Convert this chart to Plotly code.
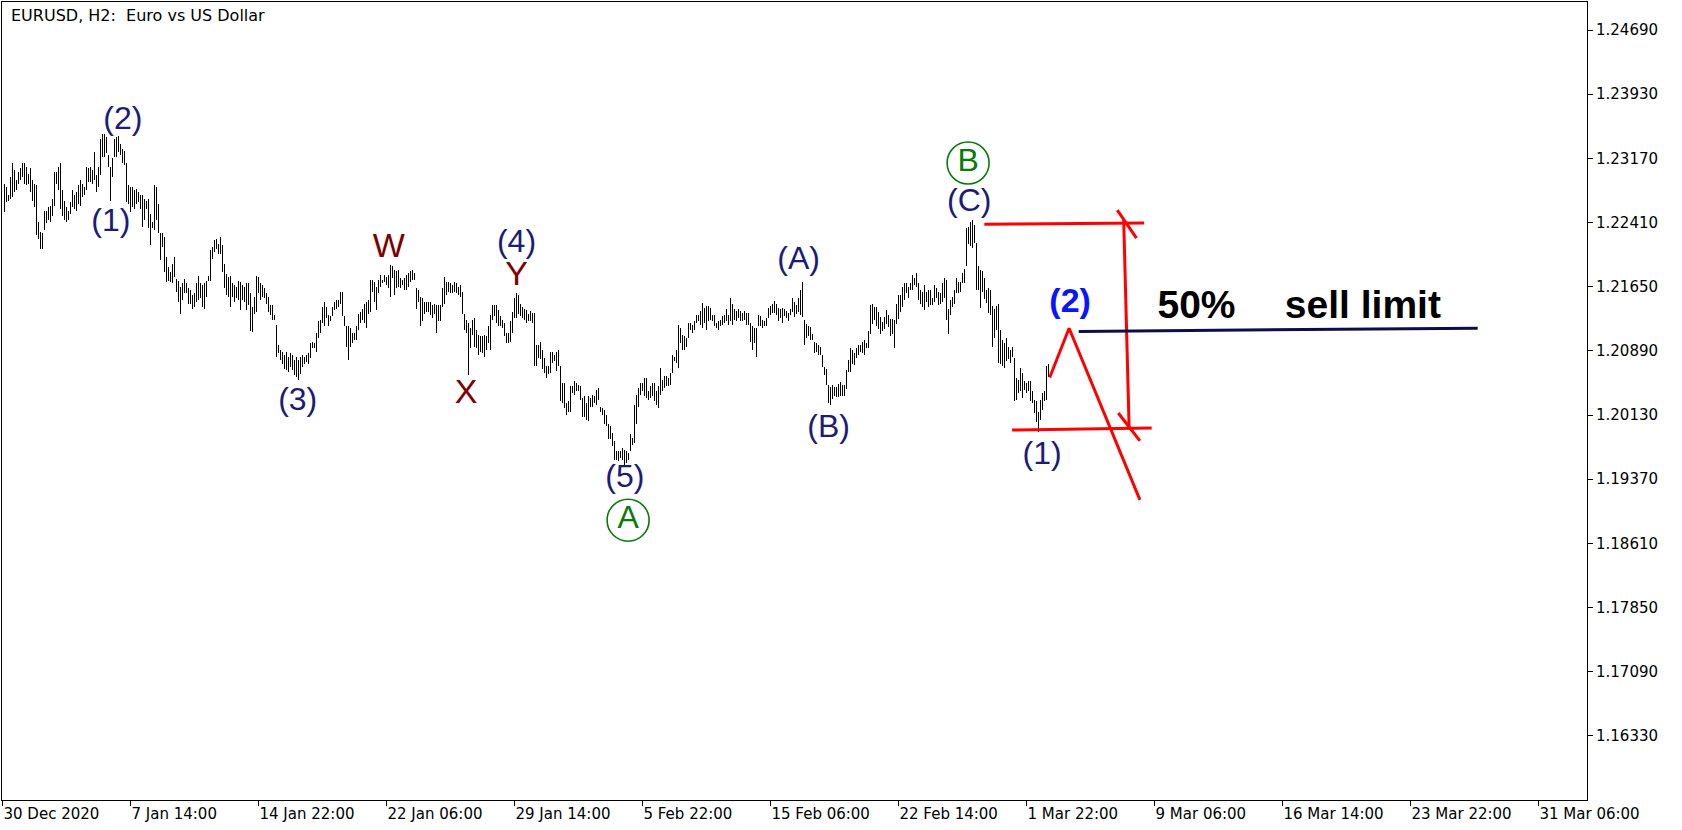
import plotly.graph_objects as go

# ---------------- data (EURUSD H2 bars) ----------------
bar_high = [
    1.2287, 1.2283, 1.2273, 1.2295, 1.2311, 1.2303, 1.2291, 1.2301, 1.2305, 1.2311,
    1.2311, 1.2307, 1.2299, 1.2305, 1.2291, 1.2287, 1.2285, 1.2242, 1.2230, 1.2228,
    1.2255, 1.2255, 1.2259, 1.2261, 1.2269, 1.2301, 1.2301, 1.2307, 1.2311, 1.2279,
    1.2267, 1.2259, 1.2255, 1.2265, 1.2279, 1.2273, 1.2277, 1.2285, 1.2291, 1.2287,
    1.2283, 1.2307, 1.2305, 1.2307, 1.2303, 1.2324, 1.2297, 1.2307, 1.2340, 1.2346,
    1.2346, 1.2342, 1.2321, 1.2307, 1.2317, 1.2340, 1.2342, 1.2344, 1.2334, 1.2328,
    1.2326, 1.2311, 1.2285, 1.2283, 1.2283, 1.2279, 1.2281, 1.2277, 1.2273, 1.2273,
    1.2269, 1.2267, 1.2269, 1.2251, 1.2242, 1.2285, 1.2283, 1.2263, 1.2228, 1.2228,
    1.2224, 1.2200, 1.2188, 1.2182, 1.2192, 1.2200, 1.2174, 1.2172, 1.2165, 1.2169,
    1.2174, 1.2169, 1.2163, 1.2161, 1.2155, 1.2157, 1.2169, 1.2178, 1.2169, 1.2167,
    1.2169, 1.2172, 1.2178, 1.2208, 1.2212, 1.2220, 1.2222, 1.2216, 1.2224, 1.2214,
    1.2192, 1.2180, 1.2176, 1.2178, 1.2169, 1.2167, 1.2165, 1.2172, 1.2171, 1.2167,
    1.2165, 1.2169, 1.2169, 1.2157, 1.2141, 1.2153, 1.2178, 1.2176, 1.2169, 1.2167,
    1.2163, 1.2157, 1.2153, 1.2143, 1.2143, 1.2131, 1.2120, 1.2096, 1.2090, 1.2088,
    1.2084, 1.2088, 1.2082, 1.2086, 1.2084, 1.2078, 1.2082, 1.2078, 1.2082, 1.2084,
    1.2082, 1.2084, 1.2086, 1.2098, 1.2100, 1.2098, 1.2110, 1.2124, 1.2126, 1.2141,
    1.2147, 1.2141, 1.2131, 1.2130, 1.2141, 1.2147, 1.2149, 1.2149, 1.2159, 1.2159,
    1.2130, 1.2118, 1.2118, 1.2116, 1.2110, 1.2110, 1.2118, 1.2133, 1.2135, 1.2139,
    1.2145, 1.2147, 1.2149, 1.2173, 1.2173, 1.2171, 1.2165, 1.2173, 1.2179, 1.2173,
    1.2179, 1.2177, 1.2179, 1.2191, 1.2189, 1.2185, 1.2183, 1.2185, 1.2175, 1.2173,
    1.2175, 1.2179, 1.2181, 1.2183, 1.2185, 1.2181, 1.2163, 1.2161, 1.2153, 1.2151,
    1.2147, 1.2147, 1.2147, 1.2147, 1.2143, 1.2145, 1.2143, 1.2143, 1.2143, 1.2163,
    1.2177, 1.2171, 1.2171, 1.2169, 1.2167, 1.2171, 1.2169, 1.2165, 1.2167, 1.2159,
    1.2133, 1.2126, 1.2122, 1.2116, 1.2126, 1.2128, 1.2114, 1.2108, 1.2106, 1.2106,
    1.2108, 1.2106, 1.2118, 1.2131, 1.2143, 1.2143, 1.2143, 1.2137, 1.2130, 1.2126,
    1.2122, 1.2110, 1.2110, 1.2124, 1.2135, 1.2151, 1.2157, 1.2155, 1.2145, 1.2141,
    1.2139, 1.2137, 1.2133, 1.2136, 1.2134, 1.2134, 1.2096, 1.2096, 1.2100, 1.2090,
    1.2081, 1.2071, 1.2071, 1.2088, 1.2088, 1.2084, 1.2088, 1.2090, 1.2071, 1.2051,
    1.2051, 1.2027, 1.2029, 1.2047, 1.2047, 1.2053, 1.2051, 1.2049, 1.2047, 1.2033,
    1.2035, 1.2027, 1.2035, 1.2033, 1.2037, 1.2035, 1.2043, 1.2045, 1.2023, 1.2021,
    1.2019, 1.2013, 1.2002, 1.2000, 1.1992, 1.1982, 1.1970, 1.1970, 1.1970, 1.1974,
    1.1972, 1.1970, 1.1968, 1.1990, 1.1986, 1.2025, 1.2037, 1.2045, 1.2051, 1.2051,
    1.2057, 1.2057, 1.2041, 1.2047, 1.2051, 1.2051, 1.2041, 1.2047, 1.2069, 1.2055,
    1.2059, 1.2059, 1.2057, 1.2063, 1.2084, 1.2082, 1.2090, 1.2120, 1.2116, 1.2108,
    1.2106, 1.2104, 1.2122, 1.2122, 1.2120, 1.2124, 1.2132, 1.2132, 1.2136, 1.2146,
    1.2140, 1.2142, 1.2142, 1.2140, 1.2132, 1.2132, 1.2122, 1.2124, 1.2126, 1.2130,
    1.2132, 1.2138, 1.2132, 1.2152, 1.2144, 1.2138, 1.2136, 1.2138, 1.2136, 1.2134,
    1.2136, 1.2134, 1.2134, 1.2122, 1.2118, 1.2116, 1.2116, 1.2132, 1.2130, 1.2126,
    1.2124, 1.2128, 1.2140, 1.2142, 1.2144, 1.2148, 1.2144, 1.2140, 1.2138, 1.2140,
    1.2138, 1.2136, 1.2134, 1.2139, 1.2151, 1.2147, 1.2143, 1.2151, 1.2161, 1.2171,
    1.2125, 1.2121, 1.2119, 1.2117, 1.2109, 1.2100, 1.2098, 1.2096, 1.2094, 1.2084,
    1.2070, 1.2068, 1.2048, 1.2046, 1.2048, 1.2046, 1.2046, 1.2050, 1.2052, 1.2048,
    1.2048, 1.2066, 1.2078, 1.2092, 1.2090, 1.2086, 1.2092, 1.2096, 1.2096, 1.2100,
    1.2102, 1.2098, 1.2113, 1.2143, 1.2145, 1.2141, 1.2141, 1.2135, 1.2129, 1.2123,
    1.2129, 1.2137, 1.2131, 1.2127, 1.2127, 1.2125, 1.2145, 1.2155, 1.2155, 1.2165,
    1.2169, 1.2169, 1.2165, 1.2169, 1.2179, 1.2175, 1.2181, 1.2169, 1.2161, 1.2159,
    1.2167, 1.2159, 1.2161, 1.2161, 1.2151, 1.2167, 1.2163, 1.2159, 1.2157, 1.2169,
    1.2175, 1.2173, 1.2139, 1.2149, 1.2153, 1.2161, 1.2175, 1.2171, 1.2171, 1.2181,
    1.2186, 1.2234, 1.2236, 1.2242, 1.2244, 1.2238, 1.2217, 1.2189, 1.2185, 1.2183,
    1.2175, 1.2161, 1.2163, 1.2161, 1.2142, 1.2138, 1.2142, 1.2144, 1.2114, 1.2102,
    1.2098, 1.2104, 1.2094, 1.2090, 1.2094, 1.2080, 1.2057, 1.2055, 1.2069, 1.2063,
    1.2053, 1.2051, 1.2053, 1.2053, 1.2041, 1.2031, 1.2029, 1.2017, 1.2031, 1.2039,
    1.2041, 1.2071, 1.2073,
]
bar_low = [
    1.2253, 1.2265, 1.2267, 1.2269, 1.2271, 1.2277, 1.2279, 1.2287, 1.2291, 1.2295,
    1.2287, 1.2285, 1.2287, 1.2277, 1.2267, 1.2259, 1.2226, 1.2222, 1.2210, 1.2210,
    1.2232, 1.2240, 1.2244, 1.2242, 1.2249, 1.2261, 1.2287, 1.2279, 1.2257, 1.2249,
    1.2244, 1.2242, 1.2244, 1.2251, 1.2259, 1.2257, 1.2255, 1.2263, 1.2261, 1.2271,
    1.2273, 1.2279, 1.2289, 1.2289, 1.2287, 1.2291, 1.2277, 1.2283, 1.2297, 1.2319,
    1.2319, 1.2323, 1.2307, 1.2267, 1.2295, 1.2319, 1.2319, 1.2324, 1.2321, 1.2311,
    1.2309, 1.2265, 1.2263, 1.2253, 1.2259, 1.2257, 1.2263, 1.2265, 1.2257, 1.2236,
    1.2244, 1.2257, 1.2234, 1.2214, 1.2234, 1.2232, 1.2244, 1.2228, 1.2196, 1.2212,
    1.2182, 1.2171, 1.2172, 1.2171, 1.2169, 1.2176, 1.2159, 1.2147, 1.2133, 1.2149,
    1.2157, 1.2157, 1.2145, 1.2145, 1.2139, 1.2141, 1.2147, 1.2149, 1.2151, 1.2141,
    1.2139, 1.2153, 1.2172, 1.2172, 1.2198, 1.2206, 1.2210, 1.2204, 1.2204, 1.2182,
    1.2163, 1.2155, 1.2153, 1.2141, 1.2153, 1.2147, 1.2151, 1.2149, 1.2137, 1.2149,
    1.2147, 1.2137, 1.2143, 1.2113, 1.2111, 1.2133, 1.2135, 1.2157, 1.2149, 1.2153,
    1.2151, 1.2145, 1.2135, 1.2131, 1.2126, 1.2126, 1.2082, 1.2086, 1.2078, 1.2074,
    1.2068, 1.2066, 1.2064, 1.2070, 1.2066, 1.2060, 1.2058, 1.2054, 1.2062, 1.2070,
    1.2074, 1.2076, 1.2074, 1.2080, 1.2092, 1.2092, 1.2088, 1.2104, 1.2110, 1.2122,
    1.2118, 1.2128, 1.2118, 1.2124, 1.2130, 1.2137, 1.2139, 1.2141, 1.2145, 1.2130,
    1.2118, 1.2094, 1.2078, 1.2094, 1.2098, 1.2102, 1.2102, 1.2114, 1.2122, 1.2126,
    1.2122, 1.2116, 1.2133, 1.2135, 1.2159, 1.2147, 1.2137, 1.2157, 1.2165, 1.2169,
    1.2171, 1.2167, 1.2163, 1.2153, 1.2175, 1.2155, 1.2163, 1.2165, 1.2163, 1.2167,
    1.2161, 1.2161, 1.2165, 1.2171, 1.2173, 1.2173, 1.2139, 1.2147, 1.2118, 1.2124,
    1.2133, 1.2135, 1.2135, 1.2131, 1.2128, 1.2133, 1.2110, 1.2124, 1.2124, 1.2141,
    1.2145, 1.2155, 1.2159, 1.2157, 1.2157, 1.2159, 1.2157, 1.2155, 1.2153, 1.2133,
    1.2114, 1.2110, 1.2060, 1.2092, 1.2108, 1.2094, 1.2092, 1.2084, 1.2088, 1.2086,
    1.2082, 1.2090, 1.2098, 1.2090, 1.2126, 1.2130, 1.2122, 1.2118, 1.2118, 1.2116,
    1.2106, 1.2098, 1.2098, 1.2100, 1.2110, 1.2128, 1.2128, 1.2133, 1.2130, 1.2128,
    1.2126, 1.2122, 1.2124, 1.2124, 1.2122, 1.2071, 1.2071, 1.2081, 1.2079, 1.2067,
    1.2063, 1.2057, 1.2061, 1.2063, 1.2075, 1.2077, 1.2065, 1.2071, 1.2029, 1.2027,
    1.2021, 1.2013, 1.2017, 1.2017, 1.2039, 1.2037, 1.2041, 1.2041, 1.2031, 1.2011,
    1.2011, 1.2007, 1.2006, 1.2023, 1.2023, 1.2027, 1.2025, 1.2031, 1.2017, 1.2013,
    1.2002, 1.2000, 1.1984, 1.1984, 1.1976, 1.1960, 1.1960, 1.1958, 1.1962, 1.1960,
    1.1954, 1.1956, 1.1960, 1.1970, 1.1978, 1.1980, 1.2002, 1.2023, 1.2037, 1.2041,
    1.2035, 1.2033, 1.2031, 1.2033, 1.2035, 1.2029, 1.2025, 1.2021, 1.2037, 1.2041,
    1.2045, 1.2047, 1.2047, 1.2049, 1.2063, 1.2077, 1.2075, 1.2069, 1.2098, 1.2090,
    1.2090, 1.2094, 1.2104, 1.2114, 1.2110, 1.2114, 1.2122, 1.2124, 1.2120, 1.2116,
    1.2122, 1.2114, 1.2124, 1.2126, 1.2124, 1.2118, 1.2116, 1.2114, 1.2118, 1.2120,
    1.2122, 1.2124, 1.2120, 1.2124, 1.2120, 1.2126, 1.2124, 1.2128, 1.2124, 1.2124,
    1.2126, 1.2120, 1.2120, 1.2100, 1.2090, 1.2098, 1.2082, 1.2118, 1.2118, 1.2116,
    1.2118, 1.2118, 1.2128, 1.2132, 1.2134, 1.2134, 1.2132, 1.2124, 1.2128, 1.2122,
    1.2130, 1.2128, 1.2124, 1.2131, 1.2135, 1.2129, 1.2133, 1.2135, 1.2131, 1.2129,
    1.2096, 1.2104, 1.2107, 1.2102, 1.2102, 1.2086, 1.2088, 1.2084, 1.2084, 1.2070,
    1.2060, 1.2048, 1.2027, 1.2025, 1.2032, 1.2036, 1.2034, 1.2034, 1.2036, 1.2036,
    1.2036, 1.2044, 1.2064, 1.2064, 1.2074, 1.2072, 1.2080, 1.2084, 1.2088, 1.2086,
    1.2084, 1.2092, 1.2092, 1.2109, 1.2121, 1.2125, 1.2119, 1.2115, 1.2109, 1.2113,
    1.2115, 1.2121, 1.2117, 1.2107, 1.2109, 1.2092, 1.2121, 1.2127, 1.2135, 1.2141,
    1.2149, 1.2157, 1.2151, 1.2161, 1.2161, 1.2167, 1.2165, 1.2149, 1.2145, 1.2141,
    1.2137, 1.2147, 1.2141, 1.2143, 1.2143, 1.2147, 1.2151, 1.2143, 1.2145, 1.2147,
    1.2151, 1.2125, 1.2109, 1.2131, 1.2141, 1.2145, 1.2157, 1.2157, 1.2159, 1.2169,
    1.2169, 1.2189, 1.2215, 1.2213, 1.2211, 1.2217, 1.2161, 1.2161, 1.2140, 1.2159,
    1.2150, 1.2146, 1.2134, 1.2132, 1.2094, 1.2104, 1.2114, 1.2075, 1.2073, 1.2071,
    1.2069, 1.2077, 1.2079, 1.2075, 1.2082, 1.2029, 1.2031, 1.2039, 1.2041, 1.2033,
    1.2043, 1.2039, 1.2041, 1.2029, 1.2027, 1.2015, 1.2005, 1.1993, 1.2007, 1.2019,
    1.2029, 1.2031, 1.2058,
]

# time scale (bar index of each label) and price scale
x_tick_idx = [-1, 63, 127, 191, 255, 319, 383, 447, 511, 575, 639, 703, 767]
x_tick_text = ["30 Dec 2020", "7 Jan 14:00", "14 Jan 22:00", "22 Jan 06:00",
               "29 Jan 14:00", "5 Feb 22:00", "15 Feb 06:00", "22 Feb 14:00",
               "1 Mar 22:00", "9 Mar 06:00", "16 Mar 14:00", "23 Mar 22:00",
               "31 Mar 06:00"]
y_tick_vals = [1.16330, 1.17090, 1.17850, 1.18610, 1.19370, 1.20130,
               1.20890, 1.21650, 1.22410, 1.23170, 1.23930, 1.24690]

# wave labels (bar index, price)
navy_text = ["(2)", "(1)", "(3)", "(4)", "(5)", "(A)", "(B)", "(C)", "(1)"]
navy_x = [59.2, 53.2, 146.6, 256.0, 310.2, 397.1, 412.1, 482.4, 518.8]
navy_y = [1.23610, 1.22403, 1.20281, 1.22150, 1.19367, 1.21958, 1.19964, 1.22644, 1.19646]
maroon_text = ["W", "X", "Y"]
maroon_x = [192.2, 230.8, 256.0]
maroon_y = [1.22098, 1.20370, 1.21765]
circled_text = ["A", "B"]
circled_x = [311.8, 481.8]
circled_y = [1.18884, 1.23115]

# drawn objects (bar index, price)
proj_x = [522.6, 532.3, 567.7]
proj_y = [1.20574, 1.21158, 1.19125]
top_level_x = [489.9, 569.8]
top_level_y = [1.22390, 1.22403]
low_level_x = [503.8, 573.6]
low_level_y = [1.19951, 1.19977]
range_x = [559.6, 562.3]
range_y = [1.22441, 1.19989]
tick_top_x = [556.4, 566.0]
tick_top_y = [1.22556, 1.22225]
tick_bot_x = [556.9, 567.7]
tick_bot_y = [1.20154, 1.19824]
limit_x = [537.1, 736.6]
limit_y = [1.21120, 1.21158]
wave2_text = ["(2)"]
wave2_x = [532.8]
wave2_y = [1.21450]
sell_text = ["50%", "sell limit"]
sell_x = [596.0, 679.2]
sell_y = [1.21399, 1.21399]

# ---------------- figure ----------------
bx, by = [], []
for i, (h, l) in enumerate(zip(bar_high, bar_low)):
    bx += [i, i, None]
    by += [l, h, None]

fig = go.Figure()
fig.add_trace(go.Scatter(x=bx, y=by, mode="lines",
                         line=dict(color="black", width=1), hoverinfo="skip"))

RED = "#ff0000"
for xs, ys in [(proj_x, proj_y), (top_level_x, top_level_y), (low_level_x, low_level_y),
               (range_x, range_y), (tick_top_x, tick_top_y), (tick_bot_x, tick_bot_y)]:
    fig.add_trace(go.Scatter(x=xs, y=ys, mode="lines",
                             line=dict(color=RED, width=3), hoverinfo="skip"))
fig.add_trace(go.Scatter(x=limit_x, y=limit_y, mode="lines",
                         line=dict(color="#0d0d4a", width=3), hoverinfo="skip"))

LBL = "Liberation Sans, Arial, sans-serif"
fig.add_trace(go.Scatter(x=navy_x, y=navy_y, mode="text", text=navy_text,
                         textposition="middle center",
                         textfont=dict(family=LBL, size=32, color="#1c1c78")))
fig.add_trace(go.Scatter(x=maroon_x, y=maroon_y, mode="text", text=maroon_text,
                         textposition="middle center",
                         textfont=dict(family=LBL, size=34, color="#800000")))
fig.add_trace(go.Scatter(x=circled_x, y=circled_y, mode="markers+text", text=circled_text,
                         textposition="middle center",
                         marker=dict(symbol="circle-open", size=42,
                                     line=dict(color="#0a7a0a", width=1.6), color="#0a7a0a"),
                         textfont=dict(family=LBL, size=32, color="#0a7a0a")))
fig.add_trace(go.Scatter(x=wave2_x, y=wave2_y, mode="text", text=["<b>(2)</b>"],
                         textposition="middle center",
                         textfont=dict(family=LBL, size=34, color="#0a14ff")))
fig.add_trace(go.Scatter(x=sell_x, y=sell_y, mode="text",
                         text=["<b>" + t + "</b>" for t in sell_text],
                         textposition="middle center",
                         textfont=dict(family=LBL, size=39, color="black")))

AX = "DejaVu Sans, Verdana, sans-serif"
fig.update_xaxes(range=[-1.25, 791.25], showgrid=False, zeroline=False,
                 showline=True, mirror=True, linecolor="black", linewidth=1,
                 ticks="outside", ticklen=5, tickcolor="black",
                 tickvals=x_tick_idx, ticktext=x_tick_text,
                 ticklabelposition="outside right",
                 tickfont=dict(family=AX, size=15, color="black"))
fig.update_yaxes(range=[1.155700, 1.250216], side="right", showgrid=False, zeroline=False,
                 showline=True, mirror=True, linecolor="black", linewidth=1,
                 ticks="outside", ticklen=5, tickcolor="black",
                 tickvals=y_tick_vals, ticktext=["%.5f" % v for v in y_tick_vals],
                 tickfont=dict(family=AX, size=15, color="black"))
fig.update_layout(width=1682, height=830, margin=dict(l=2, r=95, t=2, b=30),
                  paper_bgcolor="white", plot_bgcolor="white", showlegend=False,
                  hovermode=False,
                  annotations=[dict(text="EURUSD, H2:\u00a0 Euro vs US Dollar",
                                    xref="paper", yref="paper", x=0.0044, y=0.9837,
                                    xanchor="left", yanchor="middle", showarrow=False,
                                    font=dict(family=AX, size=16, color="black"))])

crisp_js = (
    "document.body.style.margin='0';"
    "var s=document.createElement('style');"
    "s.innerHTML='.scatterlayer .trace:first-child path.js-line{shape-rendering:crispEdges;}';"
    "document.head.appendChild(s);"
)
fig.write_html("out.html", config={"displayModeBar": False}, post_script=crisp_js)
